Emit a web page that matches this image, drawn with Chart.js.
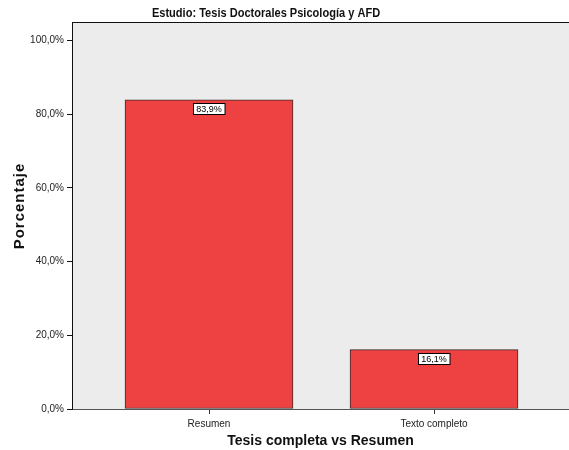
<!DOCTYPE html>
<html lang="es">
<head>
    <meta charset="UTF-8">
    <title>Estudio: Tesis Doctorales Psicología y AFD</title>
    <script src="https://cdn.jsdelivr.net/npm/chart.js"></script>
    <style>
        html, body { margin: 0; padding: 0; background: #fff; }
        #wrap { width: 569px; height: 450px; }
    </style>
</head>
<body>

<div id="wrap"><canvas id="barChart" width="569" height="450"></canvas></div>

<script>
    // datos
    const categorias = ['Resumen', 'Texto completo'];
    const porcentajes = [83.9, 16.1];
    const ticksY = [0, 20, 40, 60, 80, 100];

    const fmt = v => v.toFixed(1).replace('.', ',') + '%';

    // fondo gris del area + borde superior + titulos
    const marco = {
        id: 'marco',
        beforeDraw(chart) {
            const { ctx, chartArea: a } = chart;
            ctx.save();
            ctx.fillStyle = '#ececec';
            ctx.fillRect(a.left, a.top, a.right - a.left, a.bottom - a.top);
            ctx.strokeStyle = '#111';
            ctx.lineWidth = 1;
            ctx.beginPath();
            ctx.moveTo(a.left, a.top + 0.5);
            ctx.lineTo(a.right, a.top + 0.5);
            ctx.stroke();

            // titulo (estrecho, como Arial Narrow)
            ctx.fillStyle = '#111';
            ctx.font = 'bold 13px "Liberation Sans", Arial, sans-serif';
            ctx.textAlign = 'center';
            ctx.textBaseline = 'middle';
            ctx.save();
            ctx.translate(266, 13);
            ctx.scale(0.85, 1);
            ctx.fillText('Estudio: Tesis Doctorales Psicología y AFD', 0, 0);
            ctx.restore();

            // titulo eje Y
            ctx.save();
            ctx.translate(20, 206);
            ctx.rotate(-Math.PI / 2);
            ctx.font = 'bold 15px "Liberation Sans", Arial, sans-serif';
            ctx.letterSpacing = '1px';
            ctx.fillText('Porcentaje', 0, 0);
            ctx.restore();
            ctx.restore();
        }
    };

    // etiquetas con caja blanca
    const etiquetas = {
        id: 'etiquetas',
        afterDatasetsDraw(chart) {
            const { ctx } = chart;
            const meta = chart.getDatasetMeta(0);
            ctx.save();
            ctx.font = '9px "Liberation Sans", Arial, sans-serif';
            ctx.textAlign = 'center';
            ctx.textBaseline = 'middle';
            meta.data.forEach((bar, i) => {
                const txt = fmt(porcentajes[i]);
                const w = ctx.measureText(txt).width + 6;
                const h = 11;
                const x = Math.round(bar.x - w / 2) + 0.5;
                const y = Math.round(bar.y + 3) + 0.5;
                ctx.fillStyle = '#fff';
                ctx.fillRect(x, y, w, h);
                ctx.strokeStyle = '#000';
                ctx.lineWidth = 1;
                ctx.strokeRect(x, y, w, h);
                ctx.fillStyle = '#000';
                ctx.fillText(txt, bar.x, y + h / 2 + 0.5);
            });
            ctx.restore();
        }
    };

    const ctx = document.getElementById('barChart').getContext('2d');
    const barChart = new Chart(ctx, {
        type: 'bar',
        data: {
            datasets: [{
                label: 'Porcentaje',
                data: porcentajes.map((v, i) => ({ x: i, y: v })),
                backgroundColor: '#ee4242',
                borderColor: '#3a2a2a',
                borderWidth: 1,
                borderSkipped: false,
                barThickness: 168
            }]
        },
        options: {
            responsive: false,
            animation: false,
            layout: { padding: { top: 22, right: 0, left: 8, bottom: 0 } },
            plugins: {
                legend: { display: false },
                tooltip: { enabled: false }
            },
            scales: {
                x: {
                    type: 'linear',
                    offset: false,
                    min: -0.609,
                    max: 1.6,
                    afterBuildTicks: s => { s.ticks = categorias.map((c, i) => ({ value: i })); },
                    afterFit: s => { s.height = 41; },
                    ticks: {
                        autoSkip: false,
                        callback: v => categorias[v],
                        color: '#222',
                        font: { size: 10, family: '"Liberation Sans", Arial, sans-serif' },
                        padding: 4
                    },
                    grid: { offset: false, drawOnChartArea: false, tickLength: 5, color: '#333' },
                    border: { color: '#555', width: 1 },
                    title: {
                        display: true,
                        text: 'Tesis completa vs Resumen',
                        color: '#111',
                        font: { size: 14, weight: 'bold', family: '"Liberation Sans", Arial, sans-serif' },
                        padding: { top: 2, bottom: 0 }
                    }
                },
                y: {
                    min: 0,
                    max: 105,
                    afterBuildTicks: s => { s.ticks = ticksY.map(v => ({ value: v })); },
                    afterFit: s => { s.width = 64; },
                    ticks: {
                        callback: v => fmt(v),
                        color: '#222',
                        font: { size: 10, family: '"Liberation Sans", Arial, sans-serif' },
                        padding: 3
                    },
                    grid: { drawOnChartArea: false, tickLength: 5, color: '#111' },
                    border: { color: '#111', width: 1 }
                }
            }
        },
        plugins: [marco, etiquetas]
    });
</script>

</body>
</html>
